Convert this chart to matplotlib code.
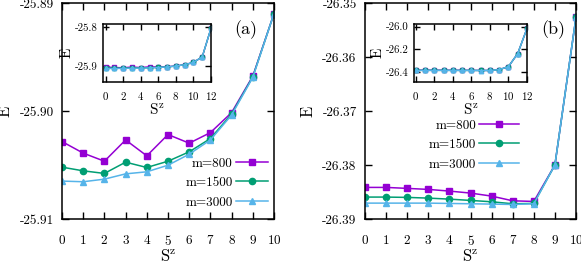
import matplotlib.pyplot as plt

plt.rcParams['font.family'] = ['cmr10', 'DejaVu Serif']
plt.rcParams['mathtext.fontset'] = 'cm'
plt.rcParams['axes.unicode_minus'] = False
plt.rcParams['axes.formatter.use_mathtext'] = True

sz = list(range(11))
sz_inset = list(range(13))

# panel (a)
Ea_800 = [-25.90283, -25.90390, -25.90465, -25.90268, -25.90415, -25.90218,
          -25.90298, -25.90200, -25.90015, -25.89677, -25.89098]
Ea_1500 = [-25.90520, -25.90554, -25.90578, -25.90474, -25.90523, -25.90465,
           -25.90378, -25.90255, -25.90028, -25.89683, -25.89098]
Ea_3000 = [-25.90649, -25.90655, -25.90631, -25.90582, -25.90563, -25.90502,
           -25.90400, -25.90268, -25.90037, -25.89689, -25.89098]
Ea_tail = [-25.877, -25.804]  # Sz = 11, 12 (inset only)

# panel (b)
Eb_800 = [-26.38415, -26.38415, -26.38433, -26.38452, -26.38483, -26.38520,
          -26.38576, -26.38663, -26.38675, -26.38000, -26.35263]
Eb_1500 = [-26.38594, -26.38594, -26.38600, -26.38613, -26.38632, -26.38656,
           -26.38681, -26.38718, -26.38712, -26.38000, -26.35263]
Eb_3000 = [-26.38706, -26.38706, -26.38706, -26.38706, -26.38712, -26.38718,
           -26.38724, -26.38731, -26.38718, -26.38000, -26.35263]
Eb_tail = [-26.237, -26.015]

labels = ['m=800', 'm=1500', 'm=3000']
colors = ['#9400d3', '#009e73', '#56b4e9']
markers = ['s', 'o', '^']

W, H = 581, 264
fig = plt.figure(figsize=(W / 100, H / 100), dpi=100)


def box(x0, y0, x1, y1):
    return [x0 / W, (H - y1) / H, (x1 - x0) / W, (y1 - y0) / H]


def style(ax, size, length, padx, pady):
    ax.tick_params(direction='in', top=True, right=True, length=length,
                   width=1.0, labelsize=size)
    ax.tick_params(axis='x', pad=padx)
    ax.tick_params(axis='y', pad=pady)
    for s in ax.spines.values():
        s.set_linewidth(1.1)


def panel(rect, inset_rect, series, tail, ylim, yticks, ylabels,
          in_ylim, in_yticks, in_ylabels, in_xlim, tag, tag_xy, leg_xy, hl):
    ax = fig.add_axes(box(*rect))
    for E, lab, c, mk in zip(series, labels, colors, markers):
        ax.plot(sz, E, color=c, marker=mk, ms=4.5, lw=1.1, label=lab)
    ax.set_xlim(0, 10)
    ax.set_ylim(*ylim)
    ax.set_xticks(sz)
    ax.set_yticks(yticks, ylabels)
    style(ax, 9.5, 5, 10.5, 6)
    ax.set_xlabel(r'S$^{\mathrm{z}}$', fontsize=12, labelpad=0)
    ax.set_ylabel('E', fontsize=12, labelpad=5)
    ax.text(tag_xy[0], tag_xy[1], tag, transform=ax.transAxes, fontsize=13,
            ha='center', va='center')
    ax.legend(loc='center right', bbox_to_anchor=leg_xy, frameon=False,
              markerfirst=False, fontsize=9.5, handlelength=hl,
              handletextpad=0.25, labelspacing=0.55, borderpad=0,
              borderaxespad=0)

    axi = fig.add_axes(box(*inset_rect))
    for E, c, mk in zip(series, colors, markers):
        axi.plot(sz_inset, E + tail, color=c, marker=mk, ms=3.2, lw=1.0)
    axi.set_xlim(*in_xlim)
    axi.set_ylim(*in_ylim)
    axi.set_xticks(range(0, 13, 2))
    axi.set_yticks(in_yticks, in_ylabels)
    style(axi, 7.8, 4, 6, 4)
    axi.set_xlabel(r'S$^{\mathrm{z}}$', fontsize=11, labelpad=0)
    axi.set_ylabel('E', fontsize=11, labelpad=1)


panel((62, 3, 274, 219), (103, 24, 211, 82),
      [Ea_800, Ea_1500, Ea_3000], Ea_tail,
      (-25.91, -25.89), [-25.91, -25.90, -25.89],
      ['-25.91', '-25.90', '-25.89'],
      (-25.941, -25.793), [-25.9, -25.8], ['-25.9', '-25.8'],
      (-0.3, 12), '(a)', (0.865, 0.875), (0.97, 0.167), 2.4)

panel((365, 3, 576, 219), (414, 24, 527, 82),
      [Eb_800, Eb_1500, Eb_3000], Eb_tail,
      (-26.39, -26.35), [-26.39, -26.38, -26.37, -26.36, -26.35],
      ['-26.39', '-26.38', '-26.37', '-26.36', '-26.35'],
      (-26.489, -25.976), [-26.4, -26.2, -26.0], ['-26.4', '-26.2', '-26.0'],
      (-0.2, 12), '(b)', (0.89, 0.875), (0.73, 0.343), 3.0)

fig.savefig('out.png', dpi=100)
